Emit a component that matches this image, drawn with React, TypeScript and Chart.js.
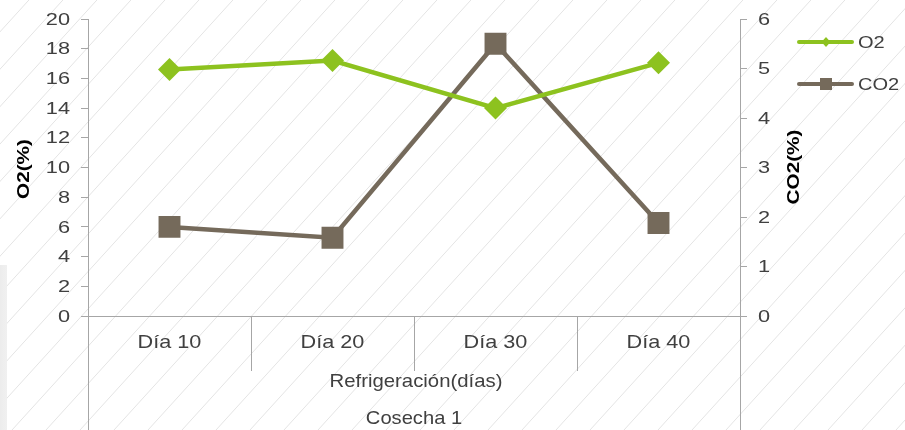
import React, { useEffect, useRef } from 'react';
import { Chart, registerables } from 'chart.js';

Chart.register(...registerables);

const categories = ['Día 10', 'Día 20', 'Día 30', 'Día 40'];
const o2Values = [16.6, 17.2, 14.0, 17.05];
const co2Values = [1.8, 1.58, 5.5, 1.88];
const seriesNames = ['O2', 'CO2'];
const groupLabel = 'Refrigeración(días)';
const outerLabel = 'Cosecha 1';
const leftTitle = 'O2(%)';
const rightTitle = 'CO2(%)';
const o2Axis = { min: 0, max: 20, step: 2 };
const co2Axis = { min: 0, max: 6, step: 1 };

const GREEN = '#8DC21F';
const BROWN = '#756A5B';
const AXIS = '#A6A6A6';
const TEXT = '#404040';
const FONT = '"Liberation Sans", Arial, sans-serif';

function stretchText(
  ctx: CanvasRenderingContext2D,
  text: string,
  x: number,
  y: number,
  font: string,
  sx: number,
  align: CanvasTextAlign,
  color: string,
  rot = 0
) {
  ctx.save();
  ctx.font = font;
  ctx.fillStyle = color;
  ctx.textBaseline = 'middle';
  ctx.textAlign = align;
  ctx.translate(x, y);
  if (rot) ctx.rotate(rot);
  ctx.scale(sx, 1);
  ctx.fillText(text, 0, 0);
  ctx.restore();
}

const decorPlugin = {
  id: 'decor',
  beforeDraw(chart: any) {
    const { ctx, width: W, height: H } = chart;
    ctx.save();
    ctx.fillStyle = '#FFFFFF';
    ctx.fillRect(0, 0, W, H);
    ctx.strokeStyle = '#E4E4E4';
    ctx.lineWidth = 1;
    const slope = 1.1;
    const spacing = 34;
    for (let x0 = -600; x0 < W + 100; x0 += spacing) {
      ctx.beginPath();
      ctx.moveTo(x0, H);
      ctx.lineTo(x0 + H / slope, 0);
      ctx.stroke();
    }
    const g = ctx.createLinearGradient(0, 0, 8, 0);
    g.addColorStop(0, 'rgba(236,236,236,1)');
    g.addColorStop(0.8, 'rgba(240,240,240,1)');
    g.addColorStop(1, 'rgba(225,225,225,0.6)');
    ctx.fillStyle = g;
    ctx.fillRect(0, 265, 7, H - 265);
    ctx.restore();
  },
  beforeDatasetsDraw(chart: any) {
    const { ctx, chartArea, height: H, scales } = chart;
    const x = scales.x;
    const yL = scales.y;
    const yR = scales.y1;
    ctx.save();
    ctx.strokeStyle = AXIS;
    ctx.lineWidth = 1;
    // extended axis lines
    ctx.beginPath();
    ctx.moveTo(Math.round(chartArea.left) + 0.5, chartArea.bottom);
    ctx.lineTo(Math.round(chartArea.left) + 0.5, H);
    ctx.moveTo(Math.round(chartArea.right) + 0.5, chartArea.bottom);
    ctx.lineTo(Math.round(chartArea.right) + 0.5, H);
    // category separators
    for (let i = 0; i < categories.length - 1; i++) {
      const px = Math.round((x.getPixelForValue(i) + x.getPixelForValue(i + 1)) / 2) + 0.5;
      ctx.moveTo(px, chartArea.bottom);
      ctx.lineTo(px, chartArea.bottom + 55);
    }
    ctx.stroke();
    ctx.restore();

    // tick labels
    const tickFont = `17px ${FONT}`;
    yL.ticks.forEach((t: any) => {
      stretchText(ctx, String(t.value), chartArea.left - 18, yL.getPixelForValue(t.value) + 1, tickFont, 1.28, 'right', TEXT);
    });
    yR.ticks.forEach((t: any) => {
      stretchText(ctx, String(t.value), chartArea.right + 18, yR.getPixelForValue(t.value) + 1, tickFont, 1.28, 'left', TEXT);
    });

    // category labels
    categories.forEach((c, i) => {
      stretchText(ctx, c, x.getPixelForValue(i), chartArea.bottom + 27, `19px ${FONT}`, 1.14, 'center', TEXT);
    });
    const midX = (chartArea.left + chartArea.right) / 2;
    stretchText(ctx, groupLabel, midX + 2, chartArea.bottom + 66, `19px ${FONT}`, 1.07, 'center', TEXT);
    stretchText(ctx, outerLabel, midX, chartArea.bottom + 103, `19px ${FONT}`, 1.06, 'center', TEXT);

    // axis titles
    stretchText(ctx, leftTitle, 24, 169, `bold 17px ${FONT}`, 1.22, 'center', '#000000', -Math.PI / 2);
    stretchText(ctx, rightTitle, 794, 167, `bold 17px ${FONT}`, 1.22, 'center', '#000000', -Math.PI / 2);

    // legend
    const legendItems = [
      { name: seriesNames[0], color: GREEN, y: 42, marker: 'diamond' },
      { name: seriesNames[1], color: BROWN, y: 84, marker: 'square' },
    ];
    legendItems.forEach((it) => {
      ctx.save();
      ctx.strokeStyle = it.color;
      ctx.lineWidth = 4;
      ctx.lineCap = 'round';
      ctx.beginPath();
      ctx.moveTo(799, it.y);
      ctx.lineTo(852, it.y);
      ctx.stroke();
      ctx.fillStyle = it.color;
      const cx = 826;
      if (it.marker === 'diamond') {
        ctx.beginPath();
        ctx.moveTo(cx, it.y - 5);
        ctx.lineTo(cx + 4.5, it.y);
        ctx.lineTo(cx, it.y + 5);
        ctx.lineTo(cx - 4.5, it.y);
        ctx.closePath();
        ctx.fill();
      } else {
        ctx.fillRect(cx - 6, it.y - 6, 12, 12);
      }
      ctx.restore();
      stretchText(ctx, it.name, 858, it.y + 1, `17px ${FONT}`, 1.18, 'left', TEXT);
    });
  },
};

export default function App() {
  const canvasRef = useRef<HTMLCanvasElement | null>(null);

  useEffect(() => {
    const canvas = canvasRef.current;
    if (!canvas) return;
    const chart = new Chart(canvas, {
      type: 'line',
      data: {
        labels: categories,
        datasets: [
          {
            label: seriesNames[0],
            data: o2Values,
            yAxisID: 'y',
            borderColor: GREEN,
            backgroundColor: GREEN,
            borderWidth: 4.5,
            pointStyle: 'rectRot',
            pointRadius: 11.5,
            pointBackgroundColor: GREEN,
            pointBorderWidth: 0,
            tension: 0,
          },
          {
            label: seriesNames[1],
            data: co2Values,
            yAxisID: 'y1',
            borderColor: BROWN,
            backgroundColor: BROWN,
            borderWidth: 4.5,
            pointStyle: 'rect',
            pointRadius: 15.5,
            pointBackgroundColor: BROWN,
            pointBorderWidth: 0,
            tension: 0,
          },
        ],
      },
      options: {
        responsive: false,
        animation: false,
        layout: { padding: { top: 19, left: 0, right: 0, bottom: 0 } },
        plugins: {
          legend: { display: false },
          tooltip: { enabled: false },
        },
        scales: {
          x: {
            type: 'category',
            offset: true,
            ticks: { display: false },
            grid: { display: false },
            border: { display: true, color: AXIS, width: 1 },
            afterFit: (s: any) => {
              s.height = 114;
            },
          },
          y: {
            position: 'left',
            min: o2Axis.min,
            max: o2Axis.max,
            ticks: { stepSize: o2Axis.step, display: false },
            grid: { drawOnChartArea: false, drawTicks: true, tickLength: 7, color: AXIS },
            border: { display: true, color: AXIS, width: 1 },
            afterFit: (s: any) => {
              s.width = 88;
            },
          },
          y1: {
            position: 'right',
            min: co2Axis.min,
            max: co2Axis.max,
            ticks: { stepSize: co2Axis.step, display: false },
            grid: { drawOnChartArea: false, drawTicks: true, tickLength: 7, color: AXIS },
            border: { display: true, color: AXIS, width: 1 },
            afterFit: (s: any) => {
              s.width = 165;
            },
          },
        },
      },
      plugins: [decorPlugin],
    });
    return () => chart.destroy();
  }, []);

  return (
    <div style={{ position: 'absolute', left: 0, top: 0, width: 905, height: 430 }}>
      <canvas ref={canvasRef} width={905} height={430} style={{ display: 'block' }} />
    </div>
  );
}
